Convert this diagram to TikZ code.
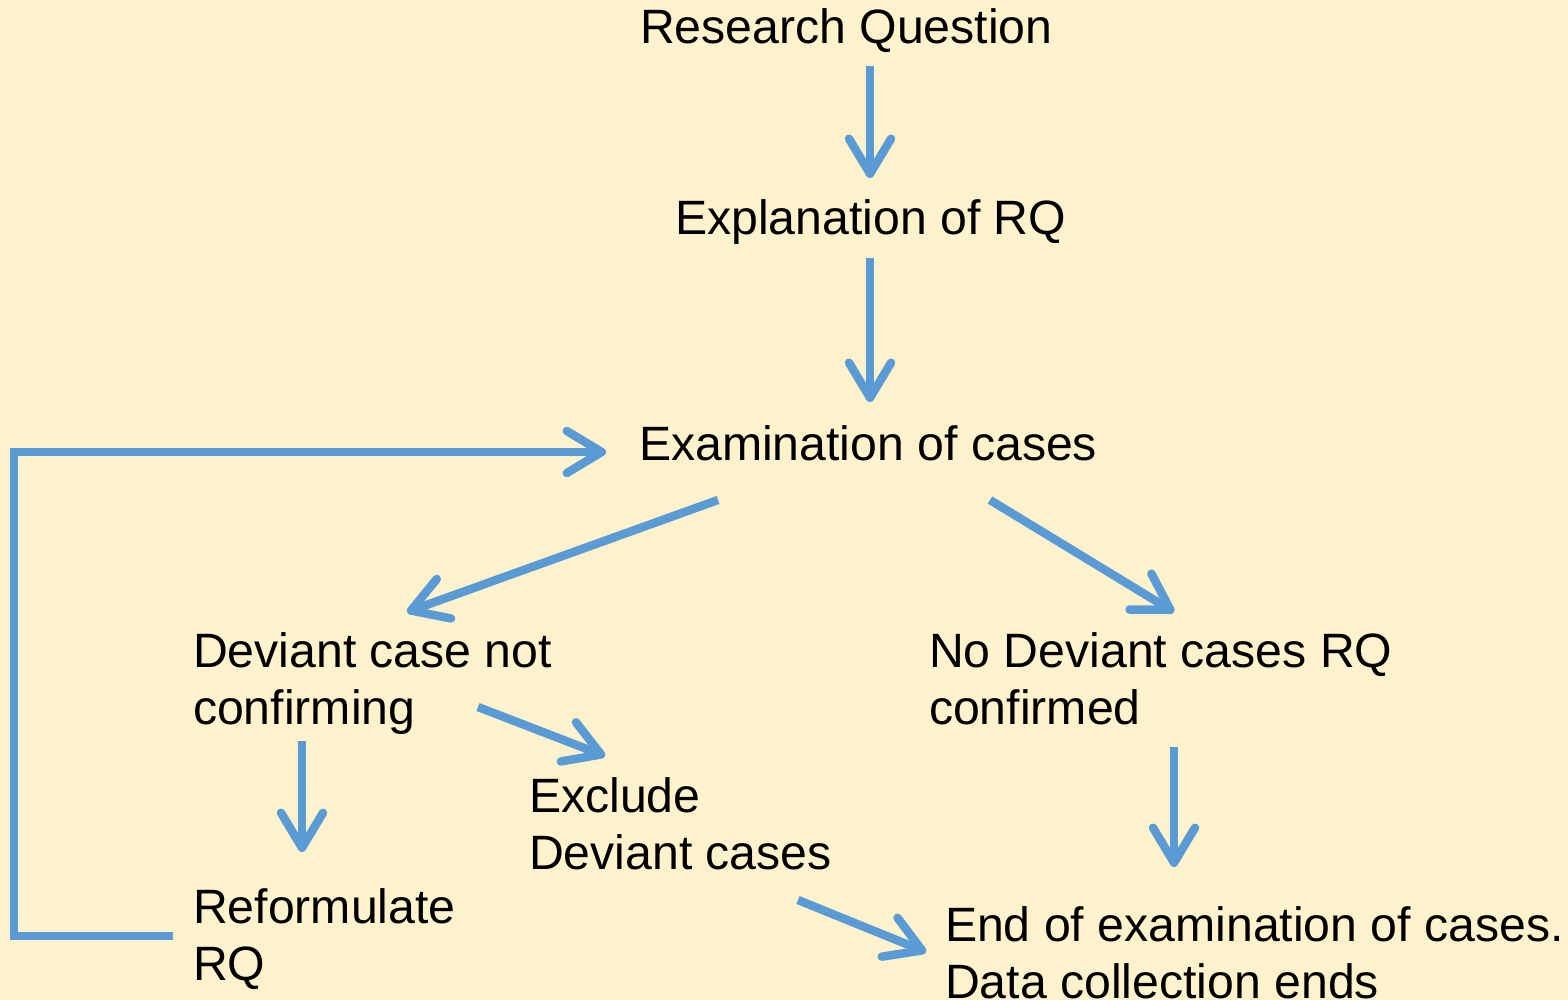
\documentclass[tikz,border=0pt]{standalone}
\usepackage{fontspec}
\setmainfont{Liberation Sans}
\usetikzlibrary{arrows.meta,calc}
\definecolor{bgyellow}{HTML}{FFF2CC}
\definecolor{arrowblue}{HTML}{5B9BD5}
\newcommand\lnstrut{\rule[-12pt]{0pt}{48pt}}
\begin{document}
\begin{tikzpicture}[x=1pt,y=-1pt,
  txt/.style={anchor=north west, inner sep=0pt, outer sep=0pt, align=left,
    font=\fontsize{48.2}{57.5}\selectfont, text=black},
  arr/.style={draw=arrowblue, line width=8.5pt, line cap=butt,
    -{Straight Barb[length=35pt,width=42pt,round]}}]
\useasboundingbox (0,0) rectangle (1568,1000);
\fill[bgyellow] (0,0) rectangle (1568,1000);
% texts
\node[txt] (rq)    at (640,8)   {\lnstrut Research Question};
\node[txt] (ex)    at (675,199) {\lnstrut Explanation of RQ};
\node[txt] (exam)  at (639,424) {\lnstrut Examination of cases};
\node[txt] (dev)   at (193,631) {\lnstrut Deviant case not\\\lnstrut confirming};
\node[txt] (nodev) at (929,631) {\lnstrut No Deviant cases RQ\\\lnstrut confirmed};
\node[txt] (exc)   at (529,776) {\lnstrut Exclude\\\lnstrut Deviant cases};
\node[txt] (ref)   at (193,887) {\lnstrut Reformulate\\\lnstrut RQ};
\node[txt] (end)   at (945,905) {\lnstrut End of examination of cases.\\\lnstrut Data collection ends};
\coordinate (lp) at (14,452);
% connectors
\draw[arr] ($(rq.north west)+(230,58)$) -- ($(ex.north west)+(195,-21)$);
\draw[arr] ($(ex.north west)+(195,59)$) -- ($(exam.north west)+(231,-22)$);
\draw[arr, line join=miter] ($(ref.north west)+(-20,49)$) -| (lp) -- ($(exam.north west)+(-33,28)$);
\draw[arr] ($(exam.north west)+(79,76)$) -- ($(dev.north west)+(214,-19)$);
\draw[arr] ($(exam.north west)+(351,76)$) -- ($(nodev.north west)+(245,-19)$);
\draw[arr] ($(dev.north west)+(109,110)$) -- ($(ref.north west)+(109,-35)$);
\draw[arr] ($(dev.north west)+(285,76)$) -- ($(exc.north west)+(76,-20)$);
\draw[arr] ($(nodev.north west)+(245,116)$) -- ($(end.north west)+(229,-38)$);
\draw[arr] ($(exc.north west)+(269,124)$) -- ($(end.north west)+(-19,47)$);
\end{tikzpicture}
\end{document}
